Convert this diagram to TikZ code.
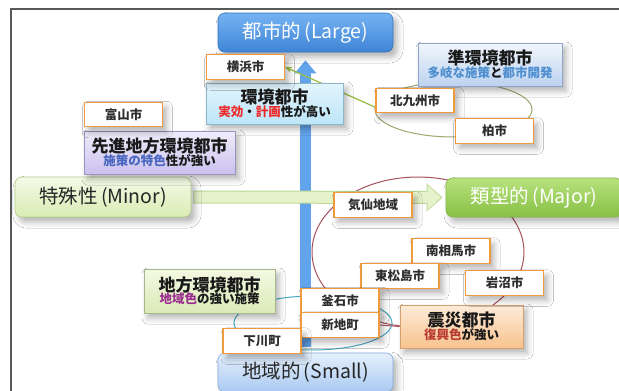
\documentclass[tikz,border=0pt]{standalone}
\usepackage{fontspec}
\setmainfont{Noto Sans CJK JP}
\usetikzlibrary{arrows.meta,shadows,shadows.blur}
\pgfdeclarelayer{bg}
\pgfsetlayers{bg,main}
\definecolor{largeT}{HTML}{74B2F2}
\definecolor{largeB}{HTML}{3F85D6}
\definecolor{largeD}{HTML}{3A76BE}
\definecolor{smallT}{HTML}{E6F0FC}
\definecolor{smallB}{HTML}{A9C9F2}
\definecolor{smallD}{HTML}{86AADA}
\definecolor{minorT}{HTML}{F5FAE8}
\definecolor{minorB}{HTML}{D8ECB2}
\definecolor{minorD}{HTML}{B5CE8C}
\definecolor{majorT}{HTML}{B8E27E}
\definecolor{majorB}{HTML}{86C044}
\definecolor{majorD}{HTML}{86B84A}
\definecolor{vblue}{HTML}{62A4EC}
\definecolor{hfill}{HTML}{E5F3CA}
\definecolor{hborder}{HTML}{BCD794}
\definecolor{cityor}{HTML}{F09A3E}
\definecolor{txtgray}{HTML}{2E2E2E}
\definecolor{kanT}{HTML}{E2F4FC}
\definecolor{kanB}{HTML}{BDE6F8}
\definecolor{kanD}{HTML}{8EB6CA}
\definecolor{junT}{HTML}{F2F6FC}
\definecolor{junB}{HTML}{BCD2F0}
\definecolor{junD}{HTML}{8EA4C6}
\definecolor{senT}{HTML}{F0ECFA}
\definecolor{senB}{HTML}{CBC1EE}
\definecolor{senD}{HTML}{9C92C0}
\definecolor{chiT}{HTML}{F4F9E2}
\definecolor{chiB}{HTML}{DAEAB8}
\definecolor{chiD}{HTML}{A6B68E}
\definecolor{shiT}{HTML}{FDEBD8}
\definecolor{shiB}{HTML}{F7C38E}
\definecolor{shiD}{HTML}{D6A06E}
\definecolor{kred}{HTML}{EE2B2B}
\definecolor{jblue}{HTML}{4F8FD0}
\definecolor{sblue}{HTML}{4866C0}
\definecolor{cpurple}{HTML}{9B2F8F}
\definecolor{sred}{HTML}{B73A2E}
\definecolor{olivec}{HTML}{A3A46E}
\definecolor{redc}{HTML}{A9505E}
\definecolor{tealc}{HTML}{4AA9C2}
\definecolor{greenc}{HTML}{9CBF4A}
\newcommand\ttlline[1]{{\fontsize{17}{18}\selectfont\bfseries #1}}
\newcommand\subline[1]{{\fontsize{12.5}{13}\selectfont\bfseries #1}}
\tikzset{
  shadowed/.style={blur shadow={shadow xshift=4pt,shadow yshift=-5pt,shadow blur radius=6pt,shadow opacity=30}},
  axisbox/.style={rounded corners=7pt, minimum width=175pt, minimum height=39pt, inner sep=0pt, line width=0.6pt, font=\fontsize{19.5}{21}\selectfont, shadowed},
  city/.style={draw=cityor, line width=1.1pt, fill=white, minimum width=78pt, minimum height=24.5pt, inner sep=0pt, font=\fontsize{12.5}{13}\selectfont\bfseries, text=txtgray, shadowed},
  titlebox/.style={line width=0.6pt, inner sep=0pt, align=center, text=black!90, shadowed},
  ellip/.style={line width=1pt},
}
\begin{document}
\begin{tikzpicture}[x=1pt,y=-1pt]
\useasboundingbox (0,0) rectangle (619,391);
\clip (0,0) rectangle (619,391);

% axis boxes
\node[axisbox, draw=largeD, top color=largeT, bottom color=largeB, text=white] (large) at (305.5,32.5) {都市的\,(Large)};
\node[axisbox, draw=smallD, top color=smallT, bottom color=smallB, text=black!85] (small) at (305.5,372.5) {地域的\,(Small)};
\node[axisbox, minimum width=176pt, minimum height=40pt, draw=minorD, top color=minorT, bottom color=minorB, text=black!85] (minor) at (103,197) {特殊性\,(Minor)};
\node[axisbox, minimum width=176pt, draw=majorD, top color=majorT, bottom color=majorB, text=white] (major) at (534,197.5) {類型的\,(Major)};

% title boxes
\node[titlebox, draw=kanD, top color=kanT, bottom color=kanB, minimum width=137pt, minimum height=41pt] (kankyo) at (274.5,103.5)
  {\ttlline{環境都市}\\[-1pt]\subline{\textcolor{kred}{実効}・\textcolor{kred}{計画}性が高い}};
\node[titlebox, draw=junD, top color=junT, bottom color=junB, minimum width=144pt, minimum height=43pt] (jun) at (490,64.5)
  {\ttlline{準環境都市}\\[-1pt]\subline{\textcolor{jblue}{多岐な施策}と\textcolor{jblue}{都市開発}}};
\node[titlebox, draw=senD, top color=senT, bottom color=senB, minimum width=151pt, minimum height=43pt] (senshin) at (159.5,152.5)
  {\ttlline{先進地方環境都市}\\[-1pt]\subline{\textcolor{sblue}{施策の特色}性が強い}};
\node[titlebox, draw=chiD, top color=chiT, bottom color=chiB, minimum width=131pt, minimum height=44pt] (chiho) at (209.5,291)
  {\ttlline{地方環境都市}\\[-1pt]\subline{\textcolor{cpurple}{地域色}の強い施策}};
\node[titlebox, draw=shiD, top color=shiT, bottom color=shiB, minimum width=123pt, minimum height=43pt] (shinsai) at (461.5,326.5)
  {\ttlline{震災都市}\\[-1pt]\subline{\textcolor{sred}{復興色}が強い}};

% city boxes
\node[city] (yokohama) at (245.5,67) {横浜市};
\node[city] (toyama) at (123.5,114.5) {富山市};
\node[city] (kitakyu) at (415,100.5) {北九州市};
\node[city] (kashiwa) at (494.5,131) {柏市};
\node[city] (kesen) at (373,205) {気仙地域};
\node[city] (minami) at (451,251) {南相馬市};
\node[city] (higashi) at (400,276) {東松島市};
\node[city] (iwanuma) at (504.5,283) {岩沼市};
\node[city] (kamaishi) at (340,300.5) {釜石市};
\node[city] (shinchi) at (340,325) {新地町};
\node[city] (shimokawa) at (262,341) {下川町};

\coordinate (kitaL) at (377,108);

\begin{pgfonlayer}{bg}
  \fill[white] (0,0) rectangle (619,391);
  \draw[black!65, line width=1.2pt] (11,396) -- (11,9) -- (625,9);
  % vertical axis arrow
  \draw[vblue, line width=11pt, -{Triangle[width=21pt,length=13pt]}, shorten <=6pt, shorten >=8pt] (small.north) -- (large.south);
  % ellipses
  \draw[olivec, ellip] (453.5,109.5) ellipse [x radius=78.5pt, y radius=27.5pt];
  \draw[redc, ellip] (418,252) ellipse [x radius=106pt, y radius=75pt];
  \draw[tealc, ellip] (313,323) ellipse [x radius=79pt, y radius=27pt];
  % horizontal axis arrow
  \draw[hborder, line width=13pt, -{Triangle[width=27pt,length=16pt]}, shorten <=2pt, shorten >=3pt] (minor.east) -- (major.west);
  \draw[hfill, line width=11pt, -{Triangle[width=24pt,length=13.5pt]}, shorten <=3pt, shorten >=4.6pt] (minor.east) -- (major.west);
  % connectors
  \draw[redc, line width=1pt] (shinchi.east) -- (shinsai.west);
  \draw[greenc, line width=1.3pt, -{Stealth[length=7pt,width=6pt]}] (kitaL) -- (yokohama.east);
\end{pgfonlayer}
\end{tikzpicture}
\end{document}
